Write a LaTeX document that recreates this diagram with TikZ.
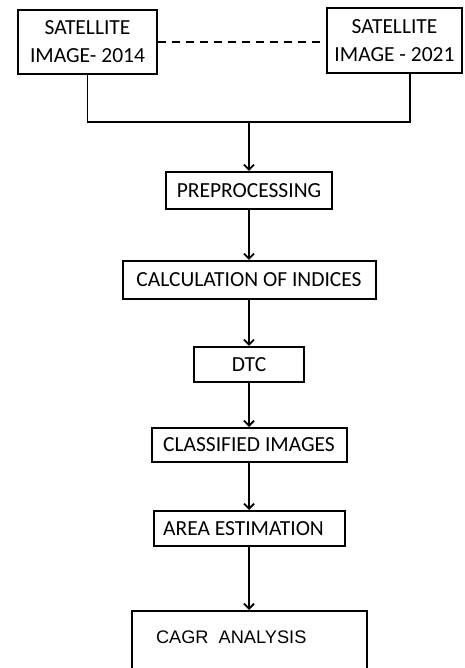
\documentclass[tikz,border=0pt]{standalone}
\usepackage{fontspec}
\setmainfont{Carlito}
\newfontfamily\arialfont{Liberation Sans}
\usetikzlibrary{positioning,arrows.meta}
\tikzset{mybox/.style={draw,line width=2pt,align=center} }
\tikzset{myline/.style={line width=1.8pt} }

\begin{document}
\begin{tikzpicture}[x=1pt,y=1pt,font=\fontsize{21.5}{28}\selectfont,>={Straight Barb[length=5pt,width=10pt]}]
    \clip (0,0) rectangle (464,668);
    \node[mybox,minimum width=139pt,minimum height=64pt] (sat14) at (87.5,626) {SATELLITE\\IMAGE- 2014};
    \node[mybox,minimum width=135pt,minimum height=65pt] (sat21) at (394.5,627.5) {SATELLITE\\IMAGE - 2021};
    \node[mybox,minimum width=166pt,minimum height=37pt] (prep) at (249,477.5) {PREPROCESSING};
    \node[mybox,minimum width=253pt,minimum height=38pt,below=50pt of prep] (calc) {CALCULATION OF INDICES};
    \node[mybox,minimum width=110pt,minimum height=35pt,below=46pt of calc] (dtc) {DTC};
    \node[mybox,minimum width=195pt,minimum height=34pt,below=44pt of dtc] (cls) {CLASSIFIED IMAGES};
    \node[mybox,minimum width=191pt,minimum height=35pt,below=47pt of cls] (area) {AREA ESTIMATION\hspace{11pt}};
    \node[mybox,minimum width=235pt,minimum height=120pt,below=63pt of area] (cagr) {};
    \node[anchor=west,font=\arialfont\fontsize{18.2}{22}\selectfont] (cagrtxt) at ([xshift=22pt,yshift=-27pt]cagr.north west) {CAGR\ \ ANALYSIS};
    \coordinate (jn) at (249,546);
    \draw[myline,dash pattern=on 8pt off 6pt] (sat14.east) -- (sat14.east -| sat21.west);
    \draw[myline] (sat14.south) |- (jn) -| ([xshift=15.5pt]sat21.south);
    \draw[myline,->] (jn) -- (prep);
    \draw[myline,->] (prep) -- (calc);
    \draw[myline,->] (calc) -- (dtc);
    \draw[myline,->] (dtc) -- (cls);
    \draw[myline,->] (cls) -- (area);
    \draw[myline,->] (area) -- (cagr);
\end{tikzpicture}
\end{document}
